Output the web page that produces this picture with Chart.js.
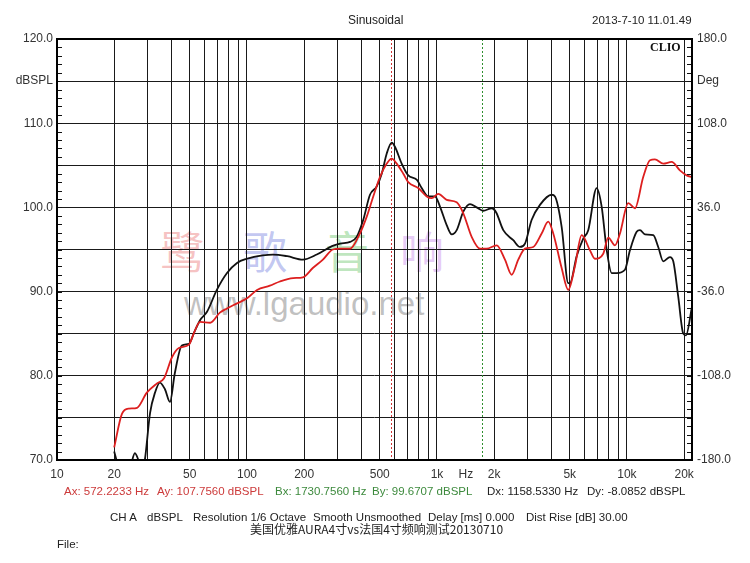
<!DOCTYPE html>
<html>
<head>
<meta charset="utf-8">
<script src="https://cdn.jsdelivr.net/npm/chart.js@4.4.0/dist/chart.umd.min.js"></script>
<style>
  html, body { margin:0; padding:0; background:#fff; }
  #wrap { position:relative; width:750px; height:563px; overflow:hidden; font-family:"Liberation Sans", Arial, sans-serif; }
  #wrap canvas { position:absolute; left:0; top:0; z-index:2; }
  .t { position:absolute; font-size:11.5px; line-height:14px; white-space:pre; color:#222; z-index:3; }
  .wm { position:absolute; z-index:1; white-space:pre; line-height:1; }
  .cjk { font-family:"Noto Sans CJK SC", sans-serif; }
</style>
</head>
<body>
<div id="wrap">
  <div class="wm cjk" style="left:160px;top:228px;font-size:44px;color:rgba(235,120,120,0.45);">鹭</div>
  <div class="wm cjk" style="left:243px;top:228px;font-size:44px;color:rgba(120,130,225,0.45);">歌</div>
  <div class="wm cjk" style="left:325px;top:228px;font-size:44px;color:rgba(110,200,110,0.45);">音</div>
  <div class="wm cjk" style="left:400px;top:228px;font-size:44px;color:rgba(200,140,235,0.45);">响</div>
  <div class="wm" style="left:184px;top:287px;font-size:33px;font-family:'Liberation Sans',Arial,sans-serif;color:rgba(140,140,140,0.55);">www.lgaudio.net</div>

  <canvas id="c" width="750" height="563"></canvas>

  <div class="t" style="left:348px;top:13px;font-size:12px;">Sinusoidal</div>
  <div class="t" style="left:592px;top:13px;">2013-7-10 11.01.49</div>
  <div class="t" style="left:650px;top:40px;font-size:12px;font-family:'Liberation Serif',serif;font-weight:bold;color:#111;">CLIO</div>

  <div class="t" style="left:64px;top:484px;color:#cc3a3a;">Ax: 572.2233 Hz</div>
  <div class="t" style="left:157px;top:484px;color:#cc3a3a;">Ay: 107.7560 dBSPL</div>
  <div class="t" style="left:275px;top:484px;color:#3d8a3d;">Bx: 1730.7560 Hz</div>
  <div class="t" style="left:372px;top:484px;color:#3d8a3d;">By: 99.6707 dBSPL</div>
  <div class="t" style="left:487px;top:484px;">Dx: 1158.5330 Hz</div>
  <div class="t" style="left:587px;top:484px;">Dy: -8.0852 dBSPL</div>

  <div class="t" style="left:110px;top:510px;">CH A</div>
  <div class="t" style="left:147px;top:510px;">dBSPL</div>
  <div class="t" style="left:193px;top:510px;">Resolution 1/6 Octave</div>
  <div class="t" style="left:313px;top:510px;">Smooth Unsmoothed</div>
  <div class="t" style="left:428px;top:510px;">Delay [ms] 0.000</div>
  <div class="t" style="left:526px;top:510px;">Dist Rise [dB] 30.00</div>
  <div class="t cjk" style="left:250px;top:522px;font-size:12px;">美国优雅AURA4寸vs法国4寸频响测试20130710</div>
  <div class="t" style="left:57px;top:537px;">File:</div>
</div>
<script>
// ---- data ----
const redHz = [20,22,23.9,26.4,29.7,33.6,36.6,40.3,43.8,49.5,52.6,56.6,64,72,78.5,88.6,100,113,132,149,175,197,222,251,283,309,349,393,427,462,501,544,578,614,665,706,797,883,938,1016,1125,1270,1376,1523,1684,1827,2062,2280,2474,2679,2906,3212,3556,3853,4094,4532,4911,5324,5776,6387,6785,7503,7974,8649,9190,10160,11020,12180,13220,14040,15530,17190,19000,20620,22000];
const redDb = [71.5,75.5,76.1,76.2,78.0,79.1,79.7,82.2,83.3,83.7,85.1,86.4,86.3,87.5,88.0,88.6,89.2,90.2,90.7,91.2,91.6,91.7,92.8,93.8,95.0,95.1,95.1,96.9,98.9,101.3,103.6,105.2,105.8,105.2,104.0,103.0,102.3,101.3,101.1,101.6,100.9,100.6,99.3,96.5,95.1,95.1,95.5,93.8,92.0,93.8,95.1,95.3,96.9,98.3,96.9,92.8,90.2,93.0,96.7,94.9,93.9,94.5,96.4,95.5,96.9,100.5,99.9,103.6,105.6,105.7,105.2,105.4,104.4,103.8,103.6];
const blackHz = [20,21,22.5,24.3,25.7,27,28,29,30.9,32.8,34.8,37,39.3,41.7,45.4,49.5,52.6,56.6,61.6,69.4,78.5,88.6,100,121,137,163,197,233,280,309,349,378,409,444,482,512,544,578,601,652,706,782,831,900,976,1037,1125,1196,1270,1376,1492,1618,1753,1941,2050,2234,2521,2734,2906,3149,3485,4015,4180,4532,4911,5012,5435,5888,6256,6926,7360,7820,8307,8830,9761,10370,11250,11710,12440,13760,14610,15530,16840,17530,18620,19790,20440,22000];
const blackDb = [71.0,69.2,66.5,69.0,70.8,69.8,68.5,70.0,75.6,78.0,79.2,78.4,76.9,80.3,83.6,83.8,85.1,86.6,87.6,90.2,92.2,93.4,93.9,94.3,94.4,94.2,93.8,94.4,95.4,95.7,95.9,96.5,98.5,101.5,102.5,104.0,106.4,107.7,107.2,105.2,103.8,103.3,102.3,101.3,101.3,100.1,97.9,96.8,97.3,99.5,100.4,100.0,99.6,99.9,99.4,97.3,96.1,95.3,95.7,98.5,100.3,101.5,101.3,97.7,91.0,91.0,94.2,96.3,97.3,102.3,100.1,95.0,92.2,92.2,92.6,94.9,97.1,97.3,96.8,96.7,95.3,93.6,94.1,93.6,89.4,85.0,84.8,88.2];

// axis definitions
const xMinHz = 10, xMaxHz = 22000;
const gridHz = [20,30,40,50,60,70,80,90,100,200,300,400,500,600,700,800,900,1000,2000,3000,4000,5000,6000,7000,8000,9000,10000,20000];
const xLabelHz = [10,20,50,100,200,500,1000,1420,2000,5000,10000,20000];
const xLabelText = ['10','20','50','100','200','500','1k','Hz','2k','5k','10k','20k'];
const yMinDb = 70, yMaxDb = 120;
const degMin = -180, degMax = 180;
const cursorAHz = 572.2233, cursorBHz = 1730.756;

const toPts = (xs, ys) => xs.map((x, i) => ({x: x, y: ys[i]}));

const decor = {
  id: 'decor',
  beforeDatasetsDraw(chart) {
    const ctx = chart.ctx, a = chart.chartArea, xs = chart.scales.x;
    ctx.save();
    ctx.lineWidth = 1;
    ctx.setLineDash([2, 2]);
    [[cursorAHz, '#d03535'], [cursorBHz, '#2f8f2f']].forEach(([hz, col]) => {
      const px = Math.round(xs.getPixelForValue(hz)) + 0.5;
      ctx.strokeStyle = col;
      ctx.beginPath(); ctx.moveTo(px, a.top); ctx.lineTo(px, a.bottom); ctx.stroke();
    });
    ctx.restore();
  },
  afterDraw(chart) {
    const ctx = chart.ctx, a = chart.chartArea, ys = chart.scales.y;
    ctx.save();
    ctx.strokeStyle = '#111';
    ctx.lineWidth = 1;
    for (let v = yMinDb; v <= yMaxDb; v++) {
      const py = Math.round(ys.getPixelForValue(v)) + 0.5;
      ctx.beginPath();
      ctx.moveTo(a.left, py); ctx.lineTo(a.left + 5, py);
      ctx.moveTo(a.right - 5, py); ctx.lineTo(a.right, py);
      ctx.stroke();
    }
    ctx.lineWidth = 2;
    ctx.strokeStyle = '#000';
    ctx.strokeRect(a.left, a.top, a.right - a.left, a.bottom - a.top);
    ctx.restore();
  }
};

Chart.defaults.font.family = "'Liberation Sans', Arial, sans-serif";
Chart.defaults.font.size = 12;
Chart.defaults.color = '#333';

new Chart(document.getElementById('c'), {
  type: 'line',
  data: {
    datasets: [
      { label: 'red', data: toPts(redHz, redDb), borderColor: '#dd1f1f', borderWidth: 1.8, pointRadius: 0, cubicInterpolationMode: 'monotone', fill: false },
      { label: 'black', data: toPts(blackHz, blackDb), borderColor: '#111', borderWidth: 1.8, pointRadius: 0, cubicInterpolationMode: 'monotone', fill: false }
    ]
  },
  options: {
    responsive: false,
    animation: false,
    events: [],
    layout: { padding: { top: 39, left: 0, right: 0, bottom: 0 } },
    plugins: { legend: { display: false }, tooltip: { enabled: false } },
    scales: {
      x: {
        type: 'logarithmic', min: xMinHz, max: xMaxHz, position: 'bottom',
        afterBuildTicks: (s) => { s.ticks = [...new Set([...gridHz, ...xLabelHz])].sort((p, q) => p - q).map(v => ({value: v})); },
        afterFit: (s) => { s.height = 563 - 460; },
        ticks: {
          autoSkip: false, maxRotation: 0, padding: 7, color: '#333',
          callback: (v) => { const i = xLabelHz.indexOf(v); return i >= 0 ? xLabelText[i] : ''; }
        },
        grid: {
          drawTicks: false, lineWidth: 1,
          color: (c) => (c.tick && gridHz.includes(c.tick.value)) ? '#1a1a1a' : 'rgba(0,0,0,0)'
        },
        border: { display: false }
      },
      y: {
        type: 'linear', position: 'left', min: yMinDb, max: yMaxDb,
        afterFit: (s) => { s.width = 57; },
        ticks: {
          stepSize: 5, padding: 4, color: '#333',
          callback: (v) => v === 115 ? 'dBSPL' : (v % 10 === 0 ? v.toFixed(1) : '')
        },
        grid: { drawTicks: false, lineWidth: 1, color: '#1a1a1a' },
        border: { display: false }
      },
      y2: {
        type: 'linear', position: 'right', min: degMin, max: degMax,
        afterFit: (s) => { s.width = 750 - 692; },
        ticks: {
          stepSize: 36, padding: 5, color: '#333',
          callback: (v) => v === 144 ? 'Deg' : (((degMax - v) % 72 === 0) ? v.toFixed(1) : '')
        },
        grid: { display: false, drawTicks: false },
        border: { display: false }
      }
    }
  },
  plugins: [decor]
});
</script>
</body>
</html>
